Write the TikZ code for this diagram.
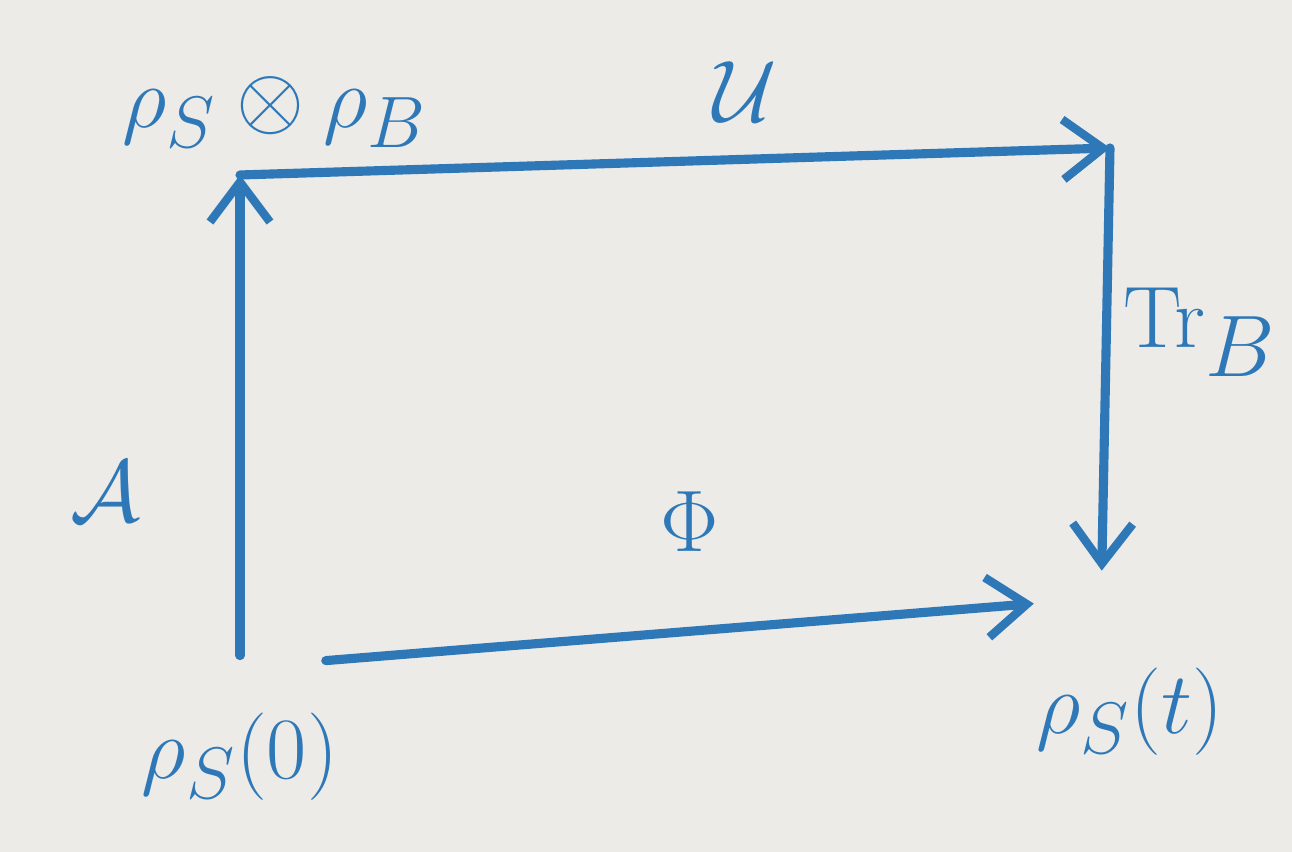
\documentclass[tikz,border=0pt]{standalone}
\usepackage{amsmath,amssymb}
\usepackage{tikz}
\usetikzlibrary{arrows.meta,calc,positioning}
\usepackage{xcolor}
\definecolor{markerblue}{HTML}{2F78B8}
\definecolor{boardgray}{HTML}{ECEBE8}

\begin{document}
\begin{tikzpicture}[
  boardlabel/.style={text=markerblue,font=\fontsize{30}{36}\selectfont,
    inner sep=2pt},
  boardmap/.style={text=markerblue,font=\fontsize{34}{40}\selectfont,
    inner sep=2pt},
  boardflow/.style={-{Straight Barb[length=4mm,width=6mm,line width=2.4pt]},
    draw=markerblue,line width=2.6pt,line cap=round}
]
  \fill[boardgray] (0,0) rectangle (12.92,8.52);
  \useasboundingbox (0,0) rectangle (12.92,8.52);

  \node[boardlabel] (prod) at (2.75,7.4) {$\rho_S\otimes\rho_B$};
  \node[boardlabel] (rhozero) at (2.4,0.95) {$\rho_S(0)$};
  \node[boardlabel] (rhot) at (11.3,1.4) {$\rho_S(t)$};
  \coordinate (topleft) at (2.4,6.77);
  \coordinate (topright) at (11.1,7.04);

  \draw[boardflow,shorten <=5mm] (rhozero.north) -- (topleft);
  \draw[boardflow] (topleft) -- (topright);
  \draw[boardflow,shorten >=9mm] (topright) -- ($(rhot.north)+(-0.3,0)$);
  \draw[boardflow] ($(rhozero.north east)+(-0.2,0.45)$)
    -- ($(rhot.north west)+(0.05,0.57)$);

  \node[boardmap] (unitary) at (7.45,7.6) {$\mathcal{U}$};
  \node[boardmap] (trace) at (12.0,5.2) {$\mathrm{Tr}_B$};
  \node[boardmap] (assign) at (1.05,3.6) {$\mathcal{A}$};
  \node[boardmap,font=\fontsize{40}{46}\selectfont] (dynmap) at (6.9,3.3)
    {$\Phi$};
\end{tikzpicture}
\end{document}
